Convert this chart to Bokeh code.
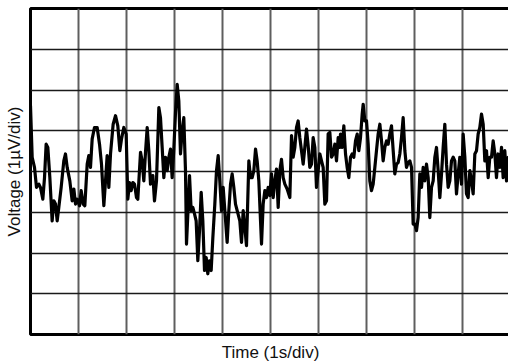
from bokeh.plotting import figure
from bokeh.models import FixedTicker
from bokeh.embed import file_html
from bokeh.resources import INLINE

# Grid divisions: 1 s/div horizontally, 1 uV/div vertically
x_divs = [0, 1, 2, 3, 4, 5, 6, 7, 8, 9, 10]
y_divs = [-4, -3, -2, -1, 0, 1, 2, 3, 4]

# Noise trace (time in s, voltage in uV)
time_s = [
    0.000, 0.035, 0.083, 0.125, 0.174, 0.208, 0.257, 0.292, 0.326, 0.361,
    0.403, 0.451, 0.486, 0.521, 0.556, 0.590, 0.639, 0.694, 0.729, 0.764,
    0.819, 0.868, 0.903, 0.938, 0.972, 1.021, 1.056, 1.097, 1.132, 1.181,
    1.215, 1.250, 1.285, 1.333, 1.389, 1.438, 1.479, 1.528, 1.563, 1.597,
    1.632, 1.667, 1.722, 1.771, 1.819, 1.861, 1.896, 1.944, 1.993, 2.028,
    2.063, 2.097, 2.132, 2.167, 2.208, 2.236, 2.292, 2.326, 2.361, 2.396,
    2.431, 2.465, 2.500, 2.549, 2.583, 2.625, 2.674, 2.708, 2.743, 2.778,
    2.813, 2.847, 2.882, 2.917, 2.951, 2.986, 3.021, 3.056, 3.090, 3.125,
    3.160, 3.194, 3.229, 3.250, 3.278, 3.313, 3.347, 3.382, 3.417, 3.451,
    3.486, 3.521, 3.556, 3.590, 3.625, 3.660, 3.694, 3.729, 3.764, 3.799,
    3.840, 3.875, 3.910, 3.944, 3.979, 4.014, 4.049, 4.097, 4.132, 4.167,
    4.201, 4.236, 4.271, 4.306, 4.361, 4.396, 4.431, 4.465, 4.500, 4.549,
    4.583, 4.618, 4.653, 4.688, 4.722, 4.757, 4.792, 4.813, 4.847, 4.882,
    4.917, 4.951, 4.986, 5.021, 5.056, 5.090, 5.125, 5.160, 5.194, 5.229,
    5.264, 5.299, 5.347, 5.403, 5.438, 5.472, 5.507, 5.542, 5.576, 5.611,
    5.646, 5.681, 5.715, 5.750, 5.785, 5.819, 5.854, 5.889, 5.924, 5.958,
    5.993, 6.028, 6.063, 6.097, 6.132, 6.167, 6.201, 6.236, 6.271, 6.306,
    6.340, 6.375, 6.410, 6.444,
    6.458, 6.493, 6.528, 6.563, 6.597, 6.632, 6.667, 6.701, 6.736, 6.771,
    6.806, 6.840, 6.875, 6.910, 6.931, 6.965, 7.000, 7.035, 7.069, 7.104,
    7.139, 7.174, 7.208, 7.243, 7.278, 7.313, 7.347, 7.382, 7.417, 7.451,
    7.486, 7.521, 7.556, 7.590, 7.625, 7.660, 7.694, 7.729, 7.764, 7.799,
    7.833, 7.868, 7.903, 7.938, 7.972, 8.007, 8.042, 8.076, 8.111, 8.146,
    8.181, 8.215, 8.250, 8.285, 8.319, 8.354, 8.389, 8.424, 8.458, 8.493,
    8.528, 8.563, 8.597, 8.632, 8.667, 8.701, 8.736, 8.771, 8.806, 8.840,
    8.875, 8.910, 8.944, 8.979, 9.014, 9.049, 9.083, 9.118, 9.153, 9.188,
    9.222, 9.257, 9.292, 9.326, 9.361, 9.396, 9.431, 9.465, 9.500, 9.535,
    9.569, 9.604, 9.639, 9.674, 9.708, 9.743, 9.778, 9.813, 9.847, 9.882,
    9.917, 9.951, 9.990,
]

voltage_uv = [
    1.61, 0.35, 0.10, -0.39, -0.31, -0.39, -0.68, -0.15, 0.67, 0.59,
    -0.15, -1.21, -0.72, -0.80, -1.21, -0.88, -0.39, 0.26, 0.43, 0.10,
    -0.23, -0.72, -0.43, -0.80, -0.68, -0.84, -0.47, -0.80, -0.84, 0.18,
    0.39, 0.10, 0.80, 1.08, 1.08, 0.67, 0.18, -0.84, -0.23, 0.39,
    -0.39, 0.43, 1.16, 1.37, 1.12, 0.51, 0.80, 1.08, 0.92, -0.68,
    -0.27, -0.47, -0.27, -0.31, -0.64, -0.68, 0.47, 0.26, -0.23, 0.47,
    1.08, 0.51, -0.31, -0.10, -0.72, -0.23, 1.57, 1.32, 0.59, -0.15,
    0.35, 0.02, 0.35, 0.55, -0.15, 0.55, 1.45, 2.14, 1.73, 0.43,
    1.00, 1.32, 0.02, -1.78, -1.04, -0.10, -0.96, -0.88, -1.04, -1.21,
    -2.19, -1.45, -0.51, -1.21, -2.43, -2.11, -2.51, -2.19, -2.43, -1.62,
    -0.80, 0.02, 0.39, -0.23, -0.96, -0.39, -0.96, -1.74, -0.96, -0.31,
    -0.06, -0.39, -0.80, -0.96, -1.21, -1.74, -0.96, -1.37, -1.82, 0.26,
    -0.15, -0.15, 0.02, 0.55, 0.26, -0.23, -1.21, -1.78, -0.80, -0.47,
    -0.64, -0.39, -0.59, -0.06, -0.64, -0.23, 0.06, -0.88, 0.02, 0.30,
    -0.15, -0.31, -0.43, -0.64, 0.88, 0.35, 0.59, 1.08, 1.24, 0.83,
    0.51, 0.18, 0.59, 1.04, 0.63, 0.10, 0.18, 0.83, 0.59, -0.39,
    0.02, 0.43, 0.26, 0.10, -0.80, -0.72, 0.92, 0.96, 0.35, 0.43,
    0.67, 0.26, 0.83, 0.59,
    0.92, 0.59, 1.12, 0.43, 0.10, -0.15, 0.35, 0.43, 0.35, 0.75,
    0.92, 0.51, 0.83, 1.41, 1.65, 1.24, 1.24, 0.67, -0.23, -0.47,
    -0.31, 0.10, 0.51, 0.92, 1.16, 0.75, 0.26, 0.59, 0.75, 0.67,
    0.92, 1.12, 0.51, -0.06, 0.18, 0.22, 0.43, 0.83, 1.32, 0.51,
    0.10, 0.22, 0.26, 0.10, -1.29, -1.29, -1.45, -1.13, -0.06, -0.39,
    0.10, -0.23, 0.18, -0.15, -1.13, -0.39, -0.23, 0.35, 0.59, 0.02,
    -0.64, -0.06, 0.59, 1.16, 0.18, -0.39, -0.23, 0.26, 0.35, 0.26,
    -0.55, -0.06, 0.35, -0.31, 0.92, 0.35, -0.55, -0.64, 0.02, -0.23,
    -0.55, 0.43, 0.51, 0.92, 1.08, 1.41, 1.16, 0.26, 0.51, -0.15,
    0.35, 0.35, 0.75, 0.43, -0.15, 0.43, 0.10, 0.59, -0.15, 0.51,
    -0.23, 0.35, 0.20,
]

FONT = "Liberation Sans"

p = figure(
    width=512, height=365,
    x_range=(0, 10), y_range=(-4, 4),
    output_backend="svg", toolbar_location=None,
    min_border_left=30, min_border_right=2,
    min_border_top=8, min_border_bottom=31,
)
p.background_fill_color = "white"
p.border_fill_color = "white"
p.outline_line_color = "black"
p.outline_line_width = 3

# grids
p.xgrid.ticker = FixedTicker(ticks=x_divs)
p.ygrid.ticker = FixedTicker(ticks=y_divs)
p.xgrid.grid_line_color = "#5e5e5e"
p.xgrid.grid_line_width = 2
p.ygrid.grid_line_color = "#1a1a1a"
p.ygrid.grid_line_width = 1.4

# axes: only labels, no ticks
for ax in (p.xaxis, p.yaxis):
    ax.ticker = FixedTicker(ticks=[])
    ax.axis_line_color = None
    ax.major_tick_line_color = None
    ax.minor_tick_line_color = None
    ax.major_label_text_font_size = "0px"
    ax.major_label_standoff = 0
    ax.major_tick_out = 0
    ax.minor_tick_out = 0
    ax.axis_label_text_font = FONT
    ax.axis_label_text_font_size = "17px"
    ax.axis_label_text_font_style = "normal"
    ax.axis_label_text_color = "#111111"

p.xaxis.axis_label = "Time (1s/div)"
p.yaxis.axis_label = "Voltage (1\u00b5V/div)"
p.xaxis.axis_label_standoff = 8
p.yaxis.axis_label_standoff = 7

p.line(time_s, voltage_uv, line_color="black", line_width=3.2,
       line_join="round", line_cap="round")

html = file_html(p, INLINE, title="Voltage noise")
html = html.replace(
    "</head>",
    "<style>html,body{margin:0;padding:0;overflow:hidden;}</style></head>",
    1,
)
with open("out.html", "w") as f:
    f.write(html)
